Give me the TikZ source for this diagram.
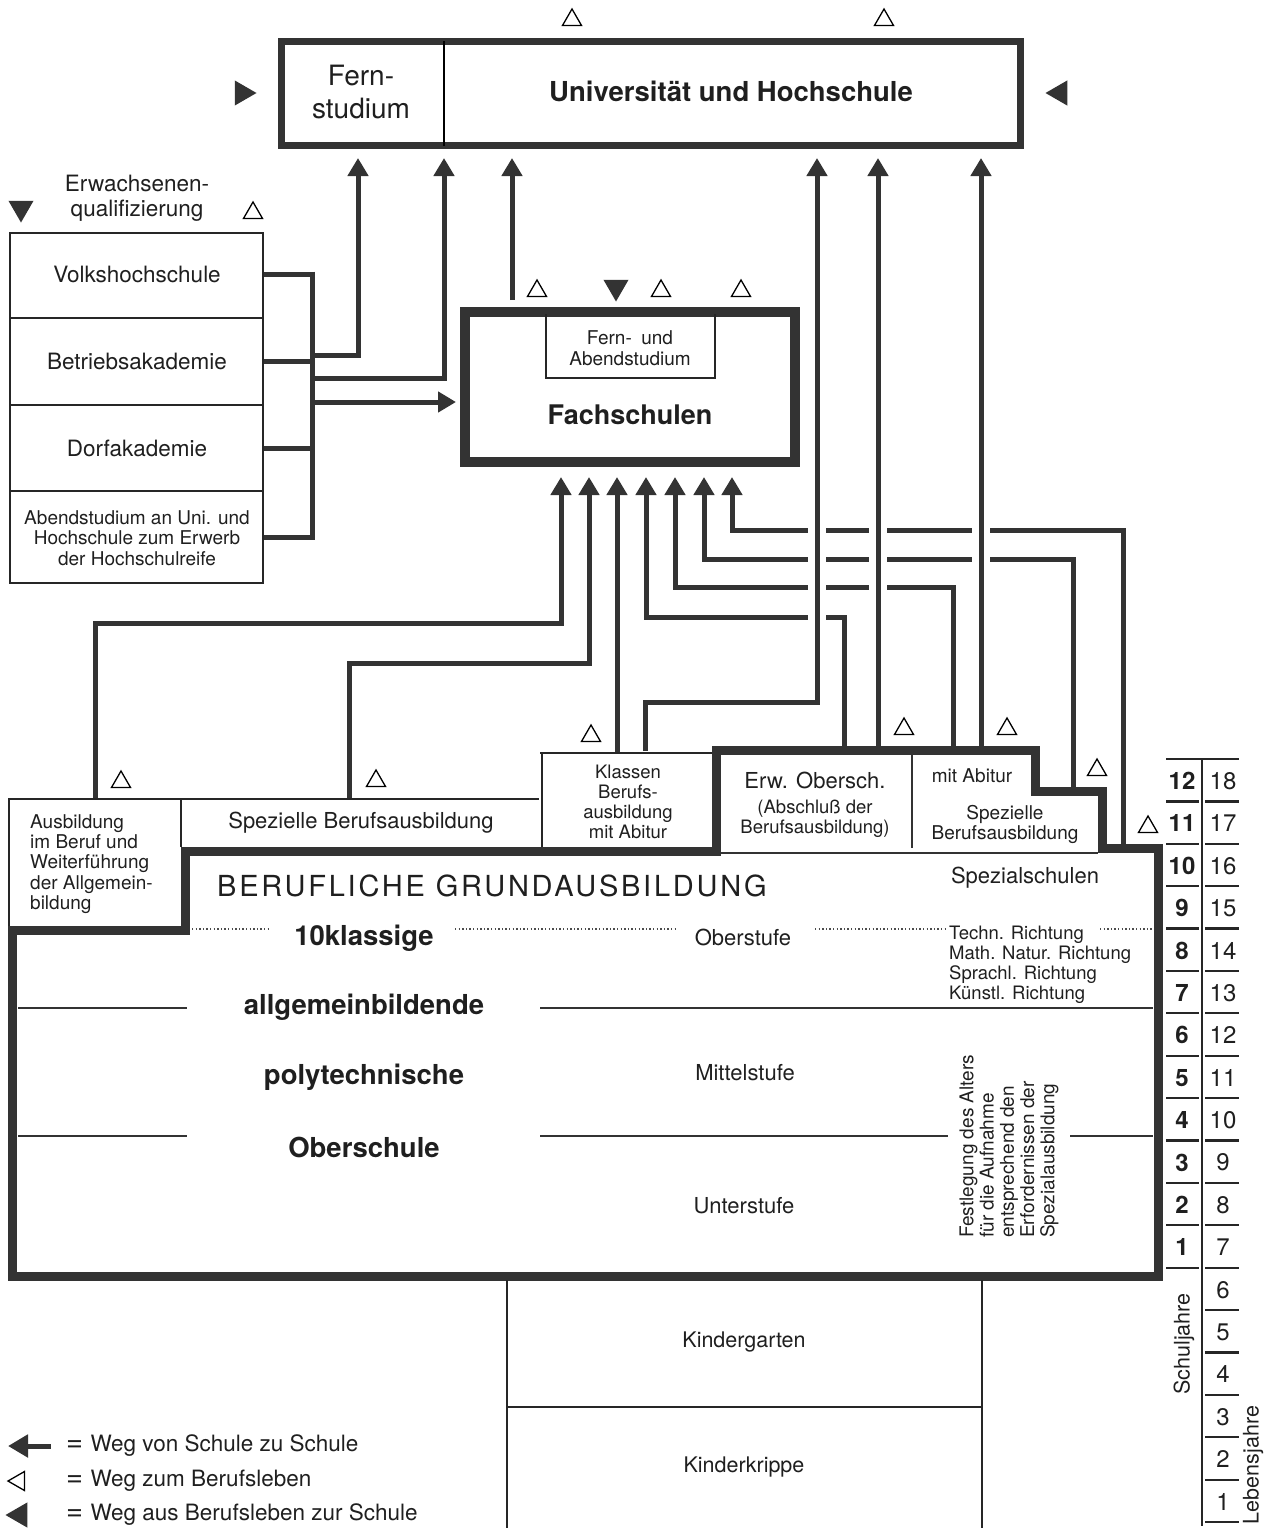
\documentclass[tikz,border=0pt]{standalone}
\usepackage{fontspec}
\setmainfont{TeX Gyre Heros}
\usetikzlibrary{arrows.meta,shapes.geometric}
\definecolor{dk}{gray}{0.2}
\newcommand{\myfs}[2]{\fontsize{#1}{#2}\selectfont}
\begin{document}
\begin{tikzpicture}[x=1pt,y=-1pt,
 conn/.style={draw=dk,line width=5pt},
 arr/.style={conn,-{Triangle[width=20pt,length=18pt]}},
 thinl/.style={draw=black!85,line width=2.2pt},
 hair/.style={draw=black!80,line width=1.4pt},
 dots/.style={draw=black!70,line width=1.4pt,dash pattern=on 1.4pt off 2.2pt},
 heavy/.style={draw=dk,line width=9pt,line join=miter},
 otri/.style={draw=black,line width=1.3pt,regular polygon,regular polygon sides=3,minimum size=22pt,inner sep=0pt},
 ftri/.style={fill=dk,regular polygon,regular polygon sides=3,minimum size=29pt,inner sep=0pt},
 txt/.style={inner sep=0pt,align=center,text=black!88},
]
\useasboundingbox (0,0) rectangle (1272,1528);

% ---------- Universitaet ----------
\node[draw=dk,line width=7pt,minimum width=739pt,minimum height=104pt,inner sep=0pt] (uni) at (651,93.5) {};
\draw[line width=2pt] (444,41.5) -- (444,145.5);
\node[txt,font=\myfs{28}{33}] (fern) at (361,92) {Fern-\\studium};
\node[txt,font=\bfseries\myfs{27.5}{32}] (unitext) at (731,91) {Universität und Hochschule};
\node[otri] (tu1) at (572,20) {};
\node[otri] (tu2) at (884,20) {};
\node[ftri,rotate=-90] (tl) at (242,93) {};
\node[ftri,rotate=90] (tr) at (1060,93) {};

% ---------- Erwachsenenqualifizierung ----------
\node[txt,font=\myfs{22.5}{25}] (ew) at (137,198) {Erwachsenen-\\qualifizierung};
\node[ftri,rotate=180] (ewd) at (21,208) {};
\node[otri] (ewu) at (253,213) {};
\node[draw=black!85,line width=2.2pt,minimum width=253pt,minimum height=350pt,inner sep=0pt] (adult) at (136.5,408) {};
\draw[thinl] (10,318) -- (263,318);
\draw[thinl] (10,405) -- (263,405);
\draw[thinl] (10,491) -- (263,491);
\node[txt,font=\myfs{22.5}{25}] (vhs) at (137,274) {Volkshochschule};
\node[txt,font=\myfs{22.5}{25}] (bak) at (137,361) {Betriebsakademie};
\node[txt,font=\myfs{22.5}{25}] (dak) at (137,448) {Dorfakademie};
\node[txt,font=\myfs{19}{20.3}] (abs) at (137,538) {Abendstudium an Uni. und\\Hochschule zum Erwerb\\der Hochschulreife};

% bracket
\draw[conn] (264,274) -- (314.5,274);
\draw[conn] (264,361) -- (314.5,361);
\draw[conn] (264,448) -- (314.5,448);
\draw[conn] (264,537) -- (314.5,537);
\draw[conn] (312,271.5) -- (312,539.5);
\draw[arr] (312,355) -- (358,355) -- (358,158);
\draw[arr] (312,378) -- (444,378) -- (444,158);
\draw[arr] (312,402) -- (456,402);

% ---------- Fachschulen ----------
\node[draw=dk,line width=10pt,minimum width=330pt,minimum height=150pt,inner sep=0pt] (fach) at (630,387) {};
\draw[thinl] (546,314) -- (546,378) -- (715,378) -- (715,314);
\node[txt,font=\myfs{19}{20.5}] (fa) at (630,348) {Fern-\enspace und\\Abendstudium};
\node[txt,font=\bfseries\myfs{27}{30}] (fs) at (630,415) {Fachschulen};
\node[otri] (ft1) at (537,291) {};
\node[ftri,rotate=180] (ft2) at (616,287) {};
\node[otri] (ft3) at (661,291) {};
\node[otri] (ft4) at (741,291) {};
\draw[arr] (512,300) -- (512,158);

% arrows into Fachschulen
\draw[arr] (95,799) -- (95,623) -- (561,623) -- (561,477);
\draw[arr] (349,799) -- (349,663) -- (589,663) -- (589,477);
\draw[arr] (617,753) -- (617,477);
\draw[arr] (844,748) -- (844,617) -- (646,617) -- (646,477);
\draw[arr] (953,748) -- (953,587) -- (675,587) -- (675,477);
\draw[arr] (1073,788) -- (1073,559) -- (704,559) -- (704,477);
\draw[arr] (1123,845) -- (1123,530) -- (732,530) -- (732,477);

% crossings
\draw[white,line width=18pt] (817,522) -- (817,625);
\draw[white,line width=18pt] (878,522) -- (878,595);
\draw[white,line width=18pt] (981,522) -- (981,567);
\draw[arr] (645,751) -- (645,702) -- (817,702) -- (817,158);
\draw[arr] (878,748) -- (878,158);
\draw[arr] (981,748) -- (981,158);

% ---------- main block ----------
\draw[heavy] (12.5,1276) -- (12.5,930) -- (185,930) -- (185,851) -- (716,851) -- (716,750.5) -- (1035,750.5) -- (1035,791) -- (1102.5,791) -- (1102.5,848) -- (1158,848) -- (1158,1276) -- cycle;
\draw[thinl] (8,799) -- (539,799);
\draw[thinl] (9,799) -- (9,926);
\draw[thinl] (181,799) -- (181,847);
\draw[thinl] (542,753) -- (542,847);
\draw[thinl] (540,753) -- (712,753);
\draw[hair] (912,755) -- (912,848);
\draw[hair] (720,853) -- (1098,853);

\node[txt,align=left,anchor=west,font=\myfs{19}{20.3}] (ausb) at (30,864) {Ausbildung\\im Beruf und\\Weiterführung\\der Allgemein-\\bildung};
\node[txt,font=\myfs{22}{25}] (spb) at (361,823) {Spezielle Berufsausbildung};
\node[txt,font=\myfs{18.5}{20}] (kl) at (628,802) {Klassen\\Berufs-\\ausbildung\\mit Abitur};
\node[txt,font=\myfs{22}{25}] (erw) at (815,780) {Erw. Obersch.};
\node[txt,font=\myfs{18.5}{20}] (erw2) at (815,819) {(Abschluß der\\Berufsausbildung)};
\node[txt,font=\myfs{19}{20}] (mab) at (972,776) {mit Abitur};
\node[txt,font=\myfs{19}{20}] (spb2) at (1005,824) {Spezielle\\Berufsausbildung};

\node[otri] (mt1) at (121,782) {};
\node[otri] (mt2) at (376,781) {};
\node[otri] (mt3) at (591,736) {};
\node[otri] (mt4) at (904,729) {};
\node[otri] (mt5) at (1007,729) {};
\node[otri] (mt6) at (1097,770) {};
\node[otri] (mt7) at (1148,827) {};

\node[txt,anchor=west,font=\myfs{29}{32}] (bga) at (217,886) {\addfontfeature{LetterSpace=9.5}BERUFLICHE GRUNDAUSBILDUNG};
\node[txt,font=\myfs{22}{25}] (sps) at (1025,878) {Spezialschulen};

\draw[dots] (192,929) -- (270,929);
\draw[dots] (455,929) -- (675,929);
\draw[dots] (815,929) -- (945,929);
\draw[dots] (1100,929) -- (1152,929);
\draw[hair] (18,1008) -- (187,1008);
\draw[hair] (540,1008) -- (1153,1008);
\draw[hair] (18,1136) -- (187,1136);
\draw[hair] (540,1136) -- (948,1136);
\draw[hair] (1070,1136) -- (1153,1136);

\node[txt,font=\bfseries\myfs{27.5}{30}] (z1) at (364,938) {10klassige};
\node[txt,font=\bfseries\myfs{27.5}{30}] (z2) at (364,1007) {allgemeinbildende};
\node[txt,font=\bfseries\myfs{27.5}{30}] (z3) at (364,1077) {polytechnische};
\node[txt,font=\bfseries\myfs{27.5}{30}] (z4) at (364,1147) {Oberschule};
\node[txt,font=\myfs{22}{25}] (st1) at (743,937) {Oberstufe};
\node[txt,font=\myfs{22}{25}] (st2) at (745,1073) {Mittelstufe};
\node[txt,font=\myfs{22}{25}] (st3) at (744,1206) {Unterstufe};
\node[txt,align=left,anchor=west,font=\myfs{18.5}{20}] (ri) at (949,965) {Techn. Richtung\\Math. Natur. Richtung\\Sprachl. Richtung\\Künstl. Richtung};
\node[txt,align=left,anchor=west,rotate=90,font=\myfs{19}{20.3}] (fest) at (1009,1238) {Festlegung des Alters\\für die Aufnahme\\entsprechend den\\Erfordernissen der\\Spezialausbildung};

% ---------- Kindergarten ----------
\draw[thinl] (507,1280) -- (507,1528);
\draw[thinl] (982,1280) -- (982,1528);
\draw[thinl] (507,1407) -- (982,1407);
\node[txt,font=\myfs{21.5}{25}] (kg) at (744,1342) {Kindergarten};
\node[txt,font=\myfs{21.5}{25}] (kk) at (744,1467) {Kinderkrippe};

% ---------- scale ----------
\foreach \i in {0,...,18} {\draw[thinl] (1205,{759+\i*42.39}) -- (1239,{759+\i*42.39});}
\foreach \i in {0,...,12} {\draw[thinl] (1166,{759+\i*42.39}) -- (1199,{759+\i*42.39});}
\draw[thinl] (1198,759) -- (1206,759);
\draw[thinl] (1202,760) -- (1202,1526);
\foreach \i in {0,...,11} {\pgfmathtruncatemacro\n{12-\i}
  \node[txt,font=\bfseries\myfs{24}{26}] (s\n) at (1182,{781+\i*42.39}) {\n};}
\foreach \i in {0,...,17} {\pgfmathtruncatemacro\n{18-\i}
  \node[txt,font=\myfs{24}{26}] (l\n) at (1223,{781+\i*42.39}) {\n};}
\node[txt,rotate=90,font=\myfs{21.5}{24}] (sj) at (1184,1344) {Schuljahre};
\node[txt,rotate=90,font=\myfs{21.5}{24}] (lj) at (1253,1465) {Lebensjahre};

% ---------- legend ----------
\draw[conn,{Triangle[width=22pt,length=20pt]}-] (8,1446) -- (51,1446);
\node[otri,fill=white,rotate=90] (lg2) at (19,1481) {};
\node[ftri,rotate=90] (lg3) at (20,1515) {};
\node[txt,anchor=west,font=\myfs{22.5}{25}] (lt1) at (66,1446) {{\myfs{29}{25}=}\,\,Weg von Schule zu Schule};
\node[txt,anchor=west,font=\myfs{22.5}{25}] (lt2) at (66,1481) {{\myfs{29}{25}=}\,\,Weg zum Berufsleben};
\node[txt,anchor=west,font=\myfs{22.5}{25}] (lt3) at (66,1515) {{\myfs{29}{25}=}\,\,Weg aus Berufsleben zur Schule};
\end{tikzpicture}
\end{document}
